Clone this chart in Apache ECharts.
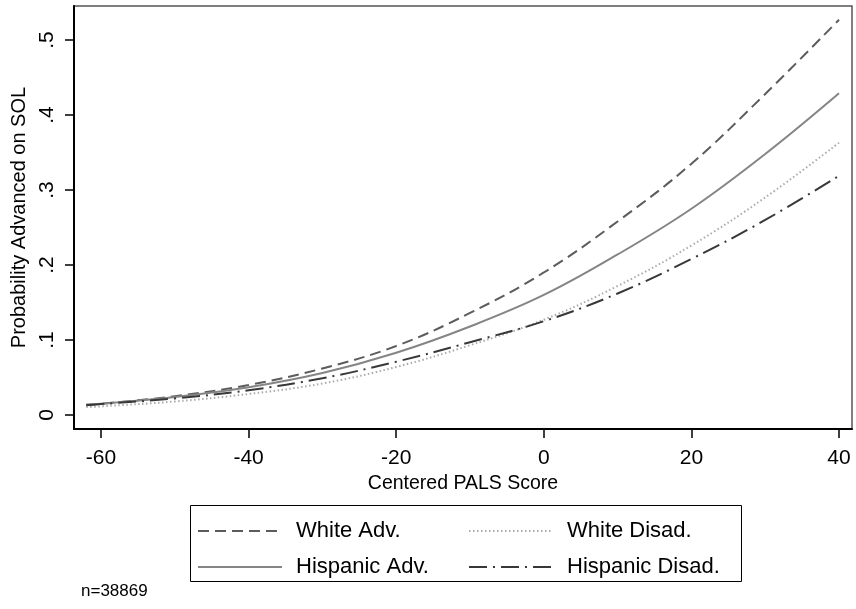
<!DOCTYPE html>
<html>
<head>
<meta charset="utf-8">
<script src="https://cdn.jsdelivr.net/npm/echarts@6/dist/echarts.min.js"></script>
<style>html,body{margin:0;padding:0;background:#fff}#c{width:856px;height:609px}</style>
</head>
<body>
<div id="c"></div>
<script>
// ---- data ----
const xValues = [-62, -60, -50, -40, -30, -20, -10, 0, 10, 20, 30, 40];
const whiteAdv     = [0.0135, 0.015, 0.025, 0.040, 0.062, 0.092, 0.136, 0.190, 0.258, 0.335, 0.428, 0.527];
const hispanicAdv  = [0.0135, 0.015, 0.024, 0.037, 0.056, 0.083, 0.118, 0.160, 0.214, 0.275, 0.348, 0.429];
const whiteDisad   = [0.0105, 0.0115, 0.018, 0.028, 0.042, 0.064, 0.093, 0.127, 0.172, 0.226, 0.290, 0.363];
const hispanicDisad= [0.013, 0.0145, 0.022, 0.033, 0.049, 0.071, 0.097, 0.125, 0.162, 0.208, 0.260, 0.319];
const seriesNames = ['White Adv.', 'Hispanic Adv.', 'White Disad.', 'Hispanic Disad.'];
const xTicks = [-60, -40, -20, 0, 20, 40];
const yTicks = [0, 0.1, 0.2, 0.3, 0.4, 0.5];
const yTickLabels = ['0', '.1', '.2', '.3', '.4', '.5'];
const xTitle = 'Centered PALS Score';
const yTitle = 'Probability Advanced on SOL';
const note = 'n=38869';

const pair = arr => xValues.map((x, i) => [x, arr[i]]);
const FONT = 'Liberation Sans, Arial, sans-serif';

const styles = [
  { color: '#5c5c5c', type: [11, 6], width: 2 },
  { color: '#858585', type: 'solid', width: 2 },
  { color: '#ababab', type: [1.5, 2.5], width: 2 },
  { color: '#383838', type: [18, 6, 2, 6], width: 2 }
];
const dataSets = [whiteAdv, hispanicAdv, whiteDisad, hispanicDisad];

const legendBase = {
  orient: 'vertical', top: 520, padding: 0, itemWidth: 84, itemHeight: 14, itemGap: 14,
  textStyle: { fontSize: 22, color: '#000', padding: [0, 0, 0, 9], fontFamily: FONT },
  itemStyle: { opacity: 0 },
  selectedMode: false
};

const chart = echarts.init(document.getElementById('c'), null, { renderer: 'canvas' });
chart.setOption({
  animation: false,
  backgroundColor: '#fff',
  textStyle: { fontFamily: FONT },
  title: {
    text: note, left: 81, top: 583, padding: 0,
    textStyle: { fontSize: 17, fontWeight: 'normal', color: '#000', fontFamily: FONT }
  },
  grid: {
    left: 74, right: 4, top: 6, bottom: 180,
    show: true, borderColor: '#555', borderWidth: 1.5, backgroundColor: '#fff'
  },
  xAxis: {
    type: 'value', min: -63.66, max: 41.76,
    name: xTitle, nameLocation: 'middle', nameGap: 43,
    nameTextStyle: { fontSize: 19.5, color: '#000', fontFamily: FONT },
    axisLine: { show: true, onZero: false, lineStyle: { color: '#000', width: 2 } },
    axisTick: { show: true, length: 9, customValues: xTicks, lineStyle: { color: '#000', width: 1.5 } },
    axisLabel: { customValues: xTicks, fontSize: 21, color: '#000', margin: 19, fontFamily: FONT },
    splitLine: { show: false }
  },
  yAxis: {
    type: 'value', min: -0.0187, max: 0.5453,
    name: yTitle, nameLocation: 'middle', nameGap: 44, nameRotate: 90,
    nameTextStyle: { fontSize: 20, color: '#000', fontFamily: FONT },
    axisLine: { show: true, onZero: false, lineStyle: { color: '#000', width: 2 } },
    axisTick: { show: true, length: 9, customValues: yTicks, lineStyle: { color: '#000', width: 1.5 } },
    axisLabel: {
      customValues: yTicks, rotate: 90, fontSize: 21, color: '#000', margin: 16, fontFamily: FONT,
      formatter: v => { const i = yTicks.findIndex(t => Math.abs(t - v) < 1e-9); return i >= 0 ? yTickLabels[i] : ''; }
    },
    splitLine: { show: false }
  },
  legend: [
    Object.assign({}, legendBase, { left: 197, data: [seriesNames[0], seriesNames[1]] }),
    Object.assign({}, legendBase, { left: 468, data: [seriesNames[2], seriesNames[3]] })
  ],
  graphic: [{
    type: 'rect', left: 188, top: 503,
    shape: { width: 551, height: 76 },
    style: { fill: 'none', stroke: '#000', lineWidth: 1 }
  }],
  series: seriesNames.map((name, i) => ({
    name, type: 'line', data: pair(dataSets[i]),
    smooth: 0.4, showSymbol: false, symbol: 'none',
    lineStyle: styles[i], itemStyle: { color: styles[i].color },
    z: 3
  }))
});
</script>
</body>
</html>
